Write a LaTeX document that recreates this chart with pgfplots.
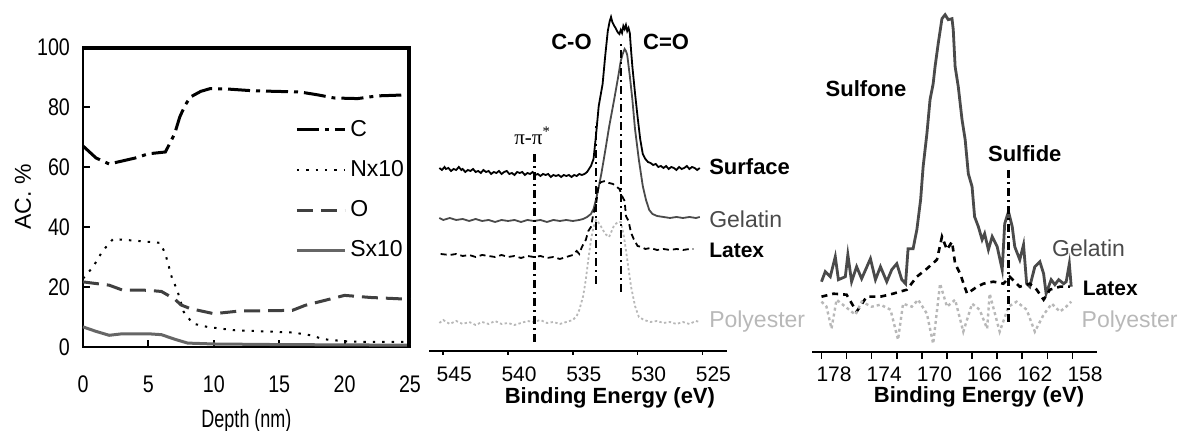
\documentclass[border=0pt]{standalone}
\usepackage{fontspec}
\setmainfont{Liberation Sans}
\newfontfamily\serifgr{Liberation Serif}
\newfontfamily\condensed[FakeStretch=0.82]{Liberation Sans}
\newfontfamily\narrowlab[FakeStretch=0.72]{Liberation Sans}
\usepackage{pgfplots}
\pgfplotsset{compat=1.18}

\definecolor{gelgray}{HTML}{4A4A4A}
\definecolor{polygray}{HTML}{B8B8B8}
\definecolor{sgray}{HTML}{666666}
\definecolor{ogray}{HTML}{404040}

\tikzset{dashdot/.style={dash pattern=on 4pt off 2pt on 1pt off 2pt}}
\newcommand{\lblfont}{\fontsize{11.5}{13}\selectfont}

\begin{document}
\begin{tikzpicture}
\path[use as bounding box] (0,0) rectangle (590pt,215.5pt);

% depth profile
\begin{axis}[
  at={(41.5pt,42pt)}, anchor=south west, scale only axis,
  width=163.5pt, height=150pt,
  xmin=0, xmax=25, ymin=0, ymax=100, clip=false,
  xtick={0,5,...,25}, ytick={0,20,...,100},
  tick pos=left, tick align=inside, major tick length=3.5pt,
  axis line style={line width=1.3pt},
  tick style={black,line width=1pt},
  tick label style={font=\condensed\fontsize{12}{13}\selectfont},
  /pgf/number format/assume math mode=true,
  xticklabel style={yshift=-11pt},
  yticklabel style={xshift=-3pt},
  xlabel={Depth (nm)},
  xlabel style={at={(axis description cs:0.5,0)}, anchor=center, yshift=-37pt, font=\narrowlab\fontsize{12.5}{14}\selectfont},
  ylabel={AC. \%},
  ylabel style={at={(axis description cs:0,0.5)}, anchor=center, yshift=30pt, font=\lblfont},
  legend style={at={(axis cs:16.2,77)}, anchor=north west, draw=none, fill=none,
    font=\lblfont, row sep=6.5pt, inner sep=0pt, cells={anchor=west}},
  legend image code/.code={\draw[#1] (0pt,0pt) -- (24pt,0pt);},
]
\addplot[black, line width=1.3pt, forget plot] coordinates {(25,0) (25,100)};
\addplot[black, line width=1.3pt, forget plot] coordinates {(0,100) (25,100)};
\addplot[black, line width=1.5pt, dash pattern=on 11pt off 3pt on 2pt off 3pt] coordinates {
(0,67) (1,63) (2,61) (3,62) (4,63) (5,64.4) (6.3,65) (7,71) (7.4,76.7) (7.8,80.5) (8.2,83.3) (9,85.2) (9.7,86.1) (11,86) (13,85.4) (16.6,85) (18,84) (19.2,83) (21,82.8) (22.5,83.7) (24.5,84) (25,84)};
\addlegendentry{C}
\addplot[black, line width=1pt, dash pattern=on 1.2pt off 3.5pt] coordinates {
(0,22.8) (0.77,26.7) (1.5,32) (2.3,36) (3.8,35.5) (5.9,34.7) (6.3,31) (6.8,23) (7.2,19) (7.7,11.7) (8.4,7.8) (9.5,6.7) (11.5,5.6) (16.1,4.8) (17.4,3.9) (18.4,2.6) (20,1.9) (21.7,1.7) (25,1.7)};
\addlegendentry{Nx10}
\addplot[ogray, line width=1.5pt, dash pattern=on 8pt off 4pt] coordinates {
(0,21.7) (2,20.6) (3,19) (5,18.9) (6,18.5) (7,16) (7.5,14) (8.2,12.8) (10,11.1) (12,12) (16,12.2) (17,13.9) (18,15) (20,17.2) (22,16.5) (25,15.9)};
\addlegendentry{O}
\addplot[sgray, line width=1.5pt] coordinates {
(0,6.7) (1,5.2) (2,3.9) (3,4.4) (5,4.4) (6,4.1) (7,2.6) (8,1.3) (10,1) (15,0.8) (25,0.6)};
\addlegendentry{Sx10}
\end{axis}

% O 1s
\begin{axis}[
  at={(214.5pt,40pt)}, anchor=south west, scale only axis,
  width=149pt, height=172.5pt,
  xmin=523.1, xmax=546.1, x dir=reverse, ymin=0, ymax=345,
  axis x line*=bottom, axis y line=none, clip=false,
  axis line style={line width=0.6pt, black},
  xtick={525,530,...,545}, tick align=outside, major tick length=2pt,
  tick style={black,line width=0.8pt},
  tick label style={font=\fontsize{10.5}{12}\selectfont},
  /pgf/number format/assume math mode=true,
  xticklabel style={xshift=5.5pt, yshift=-2.5pt},
  xlabel={\textbf{Binding Energy (eV)}},
  xlabel style={at={(axis description cs:0.607,0)}, anchor=center, yshift=-23.6pt, font=\fontsize{11}{13}\selectfont},
]
\addplot[black, line width=0.9pt] coordinates {
(545.3,183) (545.1,181) (544.9,184) (544.8,182) (544.6,183) (544.4,180) (544.2,182) (544.0,181) (543.8,184) (543.6,181) (543.5,182) (543.3,179) (543.1,181) (542.9,180) (542.7,182) (542.5,179) (542.3,180) (542.1,178) (541.9,181) (541.7,179) (541.5,180) (541.3,177) (541.1,179) (540.9,178) (540.7,180) (540.5,177) (540.3,179) (540.1,180) (539.9,177) (539.7,178) (539.5,176) (539.3,179) (539.1,178) (538.9,179) (538.7,176) (538.5,178) (538.3,177) (538.1,179) (537.9,176) (537.7,177) (537.5,175) (537.3,177) (537.1,176) (536.9,177) (536.7,174) (536.5,176) (536.3,175) (536.1,176) (535.9,174) (535.7,176) (535.5,175) (535.3,176) (535.1,174) (534.9,176) (534.7,175) (534.5,177) (534.3,176) (534.1,177) (533.9,179) (533.6,185) (533.4,192) (533.2,217) (533.0,245) (532.7,267) (532.5,295) (532.3,320) (532.15,330) (532.05,334) (531.95,329) (531.8,325) (531.7,323) (531.55,319) (531.4,317) (531.3,321) (531.2,318) (531.1,325) (531.0,322) (530.9,326) (530.8,320) (530.7,323) (530.6,318) (530.5,300) (530.4,284) (530.2,258) (530.0,234) (529.8,212) (529.6,197) (529.4,192) (529.2,189) (529.0,188) (528.8,186) (528.6,187) (528.4,184) (528.2,185) (528.0,183) (527.8,185) (527.6,182) (527.4,184) (527.2,183) (527.0,181) (526.8,184) (526.6,182) (526.4,183) (526.2,185) (526.0,182) (525.8,184) (525.6,183) (525.4,181) (525.2,183)};
\addplot[gelgray, line width=0.9pt] coordinates {
(545.3,133) (545.0,131) (544.5,133) (544.0,131) (543.5,132) (543.0,130) (542.5,132) (542.0,130) (541.5,131) (541.0,129) (540.5,131) (540.0,130) (539.5,131) (539.0,129) (538.5,131) (538.0,130) (537.5,131) (537.0,129) (536.5,131) (536.0,130) (535.5,131) (535.0,130) (534.5,131) (534.2,132) (533.9,134) (533.6,137) (533.4,142) (533.2,152) (533.0,164) (532.8,177) (532.5,200) (532.2,224) (531.8,252) (531.5,274) (531.3,290) (531.15,297) (531.0,302) (530.9,300) (530.8,296) (530.6,275) (530.4,251) (530.2,222) (529.9,191) (529.6,165) (529.35,151) (529.1,141) (528.85,137) (528.5,135) (528.0,134) (527.5,133) (527.0,134) (526.5,133) (526.0,134) (525.5,133) (525.2,134)};
\addplot[black, line width=0.9pt, dash pattern=on 3pt off 2pt] coordinates {
(545.2,97) (544.5,96) (544.0,97) (543.5,95) (543.0,96) (542.5,94) (542.0,96) (541.5,95) (541.0,94) (540.5,96) (540.0,94) (539.5,95) (539.0,93) (538.5,95) (538.0,94) (537.5,95) (537.0,93) (536.5,94) (536.0,92) (535.5,94) (535.0,96) (534.7,100) (534.5,97) (534.3,104) (534.0,111) (533.8,120) (533.6,124) (533.4,138) (533.2,147) (533.0,167) (532.8,169) (532.5,170) (532.2,168) (531.9,167) (531.6,164) (531.4,162) (531.2,155) (531.0,150) (530.9,135) (530.7,130) (530.5,118) (530.3,112) (530.0,105) (529.7,104) (529.4,102) (529.0,103) (528.5,101) (528.0,102) (527.5,101) (527.0,102) (526.5,101) (526.0,102) (525.7,102)};
\addplot[polygray, line width=0.9pt, dash pattern=on 1.2pt off 1.2pt] coordinates {
(545.3,28) (545.0,31) (544.5,27) (544.0,30) (543.5,27) (543.0,29) (542.5,26) (542.0,29) (541.5,27) (541.0,30) (540.5,27) (540.0,28) (539.5,26) (539.0,28) (538.5,30) (538.0,29) (537.5,31) (537.0,28) (536.5,29) (536.0,27) (535.5,29) (535.0,31) (534.7,35) (534.5,41) (534.2,55) (534.0,71) (533.8,92) (533.6,111) (533.4,124) (533.2,131) (533.0,128) (532.8,124) (532.5,117) (532.2,114) (532.0,120) (531.8,126) (531.5,129) (531.3,129) (531.1,118) (530.9,101) (530.7,82) (530.5,64) (530.2,45) (529.9,34) (529.5,31) (529.0,29) (528.5,30) (528.0,28) (527.5,29) (527.0,27) (526.5,29) (526.0,27) (525.5,30) (525.2,29)};
\addplot[black, line width=1.2pt, dashdot] coordinates {(537.95,9) (537.95,199)};
\addplot[black, line width=1.2pt, dashdot] coordinates {(533.2,67) (533.2,229)};
\addplot[black, line width=1.2pt, dashdot] coordinates {(531.3,59) (531.3,307)};
\node[font=\serifgr\fontsize{10.5}{12}\selectfont] at (axis cs:538.1,215) {π-π\textsuperscript{*}};
\node[font=\bfseries\fontsize{11}{13}\selectfont] at (axis cs:535.1,309) {C-O};
\node[font=\bfseries\fontsize{11}{13}\selectfont] at (axis cs:527.8,309) {C=O};
\node[font=\bfseries\fontsize{11}{13}\selectfont, anchor=west, inner sep=0pt] at (axis cs:524.5,184) {Surface};
\node[font=\lblfont, text=gelgray, anchor=west, inner sep=0pt] at (axis cs:524.5,132) {Gelatin};
\node[font=\bfseries\fontsize{10.5}{12}\selectfont, anchor=west, inner sep=0pt] at (axis cs:524.5,101) {Latex};
\node[font=\lblfont, text=polygray, anchor=west, inner sep=0pt] at (axis cs:524.5,29) {Polyester};
\end{axis}

% S 2p
\begin{axis}[
  at={(405.85pt,39.65pt)}, anchor=south west, scale only axis,
  width=142.5pt, height=172.5pt,
  xmin=157.07, xmax=179.78, x dir=reverse, ymin=0, ymax=345,
  axis x line*=bottom, axis y line=none, clip=false,
  axis line style={line width=1pt, black},
  xtick={158,162,...,178}, minor xtick={159,161,...,179},
  tick align=outside, major tick length=0pt, minor tick length=3.5pt,
  tick style={black,line width=0.8pt},
  tick label style={font=\fontsize{10.5}{12}\selectfont},
  /pgf/number format/assume math mode=true,
  xticklabel style={yshift=-4pt},
  xlabel={\textbf{Binding Energy (eV)}},
  xlabel style={at={(axis description cs:0.587,0)}, anchor=center, yshift=-22.5pt, font=\fontsize{11}{13}\selectfont},
]
\addplot[gelgray, line width=1.4pt] coordinates {
(179.0,70) (178.7,80) (178.3,75) (177.9,95) (177.65,72) (177.1,75) (176.9,97) (176.6,70) (176.2,85) (175.8,73) (175.1,93) (174.7,72) (174.3,85) (173.8,70) (173.4,82) (173.0,88) (172.6,72) (172.3,68) (172.1,103) (171.7,103) (171.4,122) (171.1,152) (170.9,185) (170.6,218) (170.35,252) (170.1,268) (169.95,285) (169.7,308) (169.4,333) (169.15,337) (168.9,332) (168.6,333) (168.5,322) (168.35,285) (168.1,265) (167.8,232) (167.55,212) (167.3,178) (167.0,165) (166.8,135) (166.5,125) (166.2,112) (166.0,118) (165.7,102) (165.4,115) (165.0,105) (164.6,82) (164.4,128) (164.1,140) (163.8,125) (163.6,105) (163.2,92) (162.9,107) (162.65,68) (162.4,65) (162.0,85) (161.6,90) (161.3,78) (161.1,58) (160.7,72) (160.4,67) (160.1,72) (159.7,68) (159.5,70) (159.25,88) (159.1,65)};
\addplot[black, line width=1.3pt, dash pattern=on 3pt off 2.5pt] coordinates {
(179.0,55) (178.05,58) (177.0,57) (176.2,40) (175.4,55) (174.3,55) (173.3,58) (172.2,62) (171.4,75) (170.6,83) (169.8,92) (169.4,115) (169.0,102) (168.6,110) (168.35,88) (167.95,78) (167.4,58) (166.6,65) (166.1,68) (165.3,70) (164.5,68) (164.0,75) (163.2,65) (162.4,68) (161.85,62) (161.3,52) (160.8,62) (160.0,65) (159.2,65)};
\addplot[polygray, line width=1.2pt, dash pattern=on 1.5pt off 1.5pt] coordinates {
(179.0,50) (178.6,45) (178.2,23) (177.8,52) (177.1,45) (176.3,37) (175.8,50) (175.0,45) (174.3,47) (173.5,42) (172.9,12) (172.5,48) (171.8,45) (171.3,52) (170.6,38) (170.1,8) (169.55,68) (169.0,45) (168.35,52) (167.7,20) (167.0,48) (166.4,42) (165.8,23) (165.6,58) (164.8,20) (164.1,45) (163.45,50) (162.65,42) (162.0,20) (161.3,37) (160.65,48) (160.0,40) (159.5,45) (159.1,50)};
\addplot[black, line width=1.2pt, dashdot] coordinates {(164.1,30) (164.1,182)};
\node[font=\bfseries\fontsize{11}{13}\selectfont] at (axis cs:175.45,263) {Sulfone};
\node[font=\bfseries\fontsize{11}{13}\selectfont] at (axis cs:162.8,198) {Sulfide};
\node[font=\lblfont, text=gelgray, anchor=west, inner sep=0pt] at (axis cs:160.65,103) {Gelatin};
\node[font=\bfseries\fontsize{10.5}{12}\selectfont, anchor=west, inner sep=0pt] at (axis cs:158.2,63) {Latex};
\node[font=\lblfont, text=polygray, anchor=west, inner sep=0pt] at (axis cs:158.3,30) {Polyester};
\end{axis}
\draw[black, line width=1.4pt] (204.3pt,42pt) -- (204.3pt,191.3pt) -- (41.5pt,191.3pt);
\end{tikzpicture}
\end{document}
